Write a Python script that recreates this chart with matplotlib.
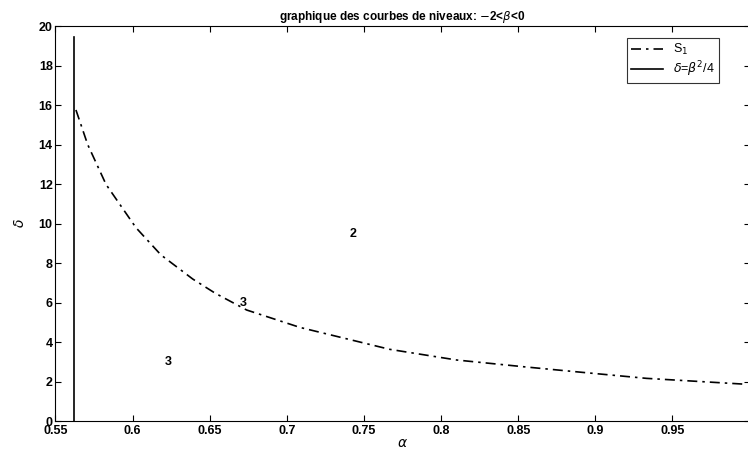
import numpy as np
import matplotlib
matplotlib.use('Agg')
import matplotlib.pyplot as plt

plt.rcParams['font.family'] = ['Liberation Sans', 'DejaVu Sans']

# level curve S1
alpha_s1 = [0.5633, 0.5709, 0.5828, 0.6022, 0.6184, 0.639, 0.6536,
            0.674, 0.7085, 0.7667, 0.81, 0.8532, 0.8921, 0.9332, 0.9958]
delta_s1 = [15.75, 14.0, 11.98, 9.79, 8.41, 7.19, 6.47,
            5.62, 4.74, 3.63, 3.09, 2.75, 2.46, 2.16, 1.87]

# vertical boundary delta = beta^2/4
alpha_v = [0.562, 0.562]
delta_v = [0, 19.45]

# region labels
lab_x = [0.7427, 0.672, 0.6232]
lab_y = [9.45, 6.0, 3.0]
lab_t = ['2', '3', '3']

xticks = [0.55, 0.6, 0.65, 0.7, 0.75, 0.8, 0.85, 0.9, 0.95, 1.0]
xlabels = ['0.55', '0.6', '0.65', '0.7', '0.75', '0.8', '0.85', '0.9', '0.95', '']
yticks = list(range(0, 21, 2))

fig = plt.figure(figsize=(7.48, 4.5), dpi=100)
ax = fig.add_axes([0.0741, 0.0644, 0.928, 0.8778])

ax.plot(alpha_s1, delta_s1, color='black', lw=1.2, linestyle=(0, (6, 3, 1.5, 3)), label='S$_1$')
ax.plot(alpha_v, delta_v, color='black', lw=1.2, label=r'$\delta$=$\beta^2$/4')

for x, y, t in zip(lab_x, lab_y, lab_t):
    ax.text(x, y, t, ha='center', va='center', fontsize=9, fontweight='bold')

ax.set_xlim(0.55, 1.0)
ax.set_ylim(0, 20)
ax.set_xticks(xticks)
ax.set_xticklabels(xlabels)
ax.set_yticks(yticks)
ax.tick_params(direction='in', top=True, right=True, length=4, labelsize=9, pad=2)
ax.tick_params(axis='x', pad=3)
for lbl in ax.get_xticklabels() + ax.get_yticklabels():
    lbl.set_fontweight('bold')

ax.set_xlabel(r'$\alpha$', fontsize=10, labelpad=-1)
ax.set_ylabel(r'$\delta$', fontsize=10, labelpad=8)
ax.set_title(r'graphique des courbes de niveaux: $-$2<$\beta$<0', fontsize=8.5, fontweight='bold', pad=4)

leg = ax.legend(loc='upper right', bbox_to_anchor=(0.965, 0.985), fontsize=9,
                frameon=True, fancybox=False, edgecolor='black', handlelength=2.6,
                borderpad=0.3, labelspacing=0.2)
leg.get_frame().set_linewidth(0.8)

fig.savefig('out.png', dpi=100)
